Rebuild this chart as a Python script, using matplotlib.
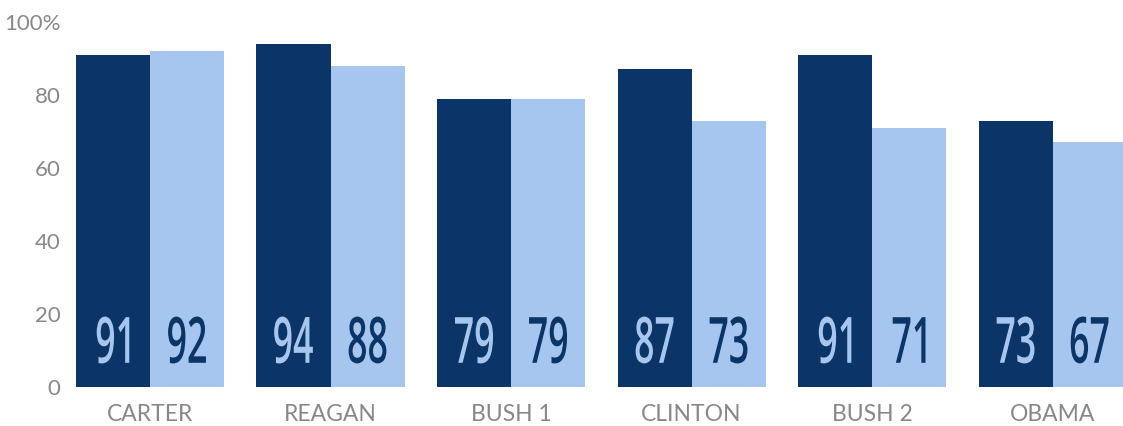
import numpy as np
import matplotlib.pyplot as plt
from matplotlib.font_manager import FontProperties
from matplotlib.textpath import TextPath
from matplotlib.patches import PathPatch
from matplotlib.transforms import Affine2D

presidents = ["CARTER", "REAGAN", "BUSH 1", "CLINTON", "BUSH 2", "OBAMA"]
series_a = [91, 94, 79, 87, 91, 73]
series_b = [92, 88, 79, 73, 71, 67]
yticks = [0, 20, 40, 60, 80, 100]
ytick_labels = ["0", "20", "40", "60", "80", "100%"]

dark = "#0a3566"
light = "#a6c6f0"
gray = "#888888"

fig = plt.figure(figsize=(11.23, 4.26), dpi=100)
ax = fig.add_axes([0.0564, 0.0915, 0.9436, 0.857])

x = np.arange(len(presidents))
w = 0.41
bars_a = ax.bar(x - w / 2, series_a, w, color=dark)
bars_b = ax.bar(x + w / 2, series_b, w, color=light)

ax.set_xlim(-0.48, 5.39)
ax.set_ylim(0, 100)
ax.set_xticks(x)
ax.set_xticklabels(presidents, family="Lato", fontsize=16.5, color=gray)
ax.set_yticks(yticks)
ax.set_yticklabels(ytick_labels, family="Lato", fontsize=16, color=gray)
ax.tick_params(length=0)
ax.tick_params(axis="x", pad=12)
ax.tick_params(axis="y", pad=2)
for s in ax.spines.values():
    s.set_visible(False)

# condensed value labels: text paths squeezed horizontally
num_font = FontProperties(family="Open Sans", weight="semibold")
ref = TextPath((0, 0), "0", size=1, prop=num_font).get_extents()
sy = 47 / ref.height
sx = sy * 0.56


def squeezed(xc, yc, s, color):
    tp = TextPath((0, 0), s, size=1, prop=num_font)
    e = tp.get_extents()
    px, py = ax.transData.transform((xc, yc))
    tr = Affine2D().translate(-(e.x0 + e.x1) / 2, -(ref.y0 + ref.y1) / 2).scale(sx, sy).translate(px, py)
    p = PathPatch(tp, transform=tr, facecolor=color, lw=0, clip_on=False)
    fig.add_artist(p)


for b, v in zip(bars_a, series_a):
    squeezed(b.get_x() + b.get_width() / 2, 12.9, str(v), light)
for b, v in zip(bars_b, series_b):
    squeezed(b.get_x() + b.get_width() / 2, 12.9, str(v), dark)

fig.savefig("out.png", dpi=100)
